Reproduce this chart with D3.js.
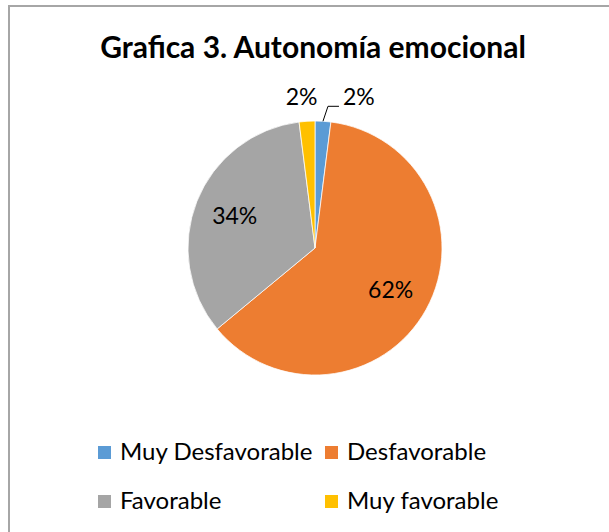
<!DOCTYPE html>
<html>
<head>
<meta charset="utf-8">
<script src="https://cdn.jsdelivr.net/npm/d3@7"></script>
<style>
  body { margin: 0; background: #fff; }
  text { font-family: Lato, "Noto Sans", sans-serif; fill: #000; }
</style>
</head>
<body>
<div id="chart"></div>
<script>
// chart data
var categories = ["Muy Desfavorable", "Desfavorable", "Favorable", "Muy favorable"];
var values = [2, 62, 34, 2];
var labels = ["2%", "62%", "34%", "2%"];
var colors = ["#5B9BD5", "#ED7D31", "#A5A5A5", "#FFC000"];
var title = "Grafica 3. Autonomía emocional";

var width = 609, height = 532;
var cx = 315, cy = 248, radius = 127;

var svg = d3.select("#chart").append("svg")
    .attr("width", width).attr("height", height);

// outer frame (only left and top visible in the picture)
svg.append("rect").attr("x", 9).attr("y", 6)
    .attr("width", 800).attr("height", 800)
    .style("fill", "none").style("stroke", "#a6a6a6").style("stroke-width", 2);

// title
svg.append("text").attr("x", 313).attr("y", 58)
    .attr("text-anchor", "middle")
    .style("font-size", "30px").style("font-weight", "bold")
    .text(title);

var data = categories.map(function(c, i) {
    return {name: c, value: values[i], label: labels[i], color: colors[i]};
});

var pie = d3.pie().sort(null).value(function(d) { return d.value; });
var arcs = pie(data);

var arc = d3.arc().innerRadius(0).outerRadius(radius);
var labelArc = d3.arc().innerRadius(radius * 0.68).outerRadius(radius * 0.68);

var g = svg.append("g").attr("transform", "translate(" + cx + "," + cy + ")");

g.selectAll("path.slice").data(arcs).enter()
    .append("path").attr("class", "slice")
    .attr("d", arc)
    .style("fill", function(d) { return d.data.color; })
    .style("stroke", "#fff").style("stroke-width", 0.75);

//---- labels: big slices inside, small ones outside
arcs.forEach(function(d, i) {
    var mid = (d.startAngle + d.endAngle) / 2;
    if (d.data.value >= 10) {
        var c = labelArc.centroid(d);
        g.append("text").attr("x", c[0]).attr("y", c[1]).attr("dy", "0.35em")
            .attr("text-anchor", "middle").style("font-size", "23px")
            .text(d.data.label);
    } else {
        var px = Math.sin(mid) * (radius + 24),
            py = -Math.cos(mid) * (radius + 24);
        if (i === 0) {
            // label pushed right with leader line
            var ex = Math.sin(mid) * radius, ey = -Math.cos(mid) * radius;
            g.append("polyline")
                .attr("points", [[ex, ey], [ex + 5, py + 9], [ex + 16, py + 9]].map(function(p) { return p.join(","); }).join(" "))
                .style("fill", "none").style("stroke", "#000").style("stroke-width", 1);
            g.append("text").attr("x", ex + 20).attr("y", py).attr("dy", "0.35em")
                .attr("text-anchor", "start").style("font-size", "23px")
                .text(d.data.label);
        } else {
            g.append("text").attr("x", px - 4).attr("y", py).attr("dy", "0.35em")
                .attr("text-anchor", "middle").style("font-size", "23px")
                .text(d.data.label);
        }
    }
});

//---- legend, 2 columns
var legend = svg.append("g").attr("class", "legend");
var colX = [98, 325], rowY = [452, 501];

var item = legend.selectAll("g").data(data).enter().append("g")
    .attr("transform", function(d, i) {
        return "translate(" + colX[i % 2] + "," + rowY[Math.floor(i / 2)] + ")";
    });
item.append("rect").attr("x", 0).attr("y", -6).attr("width", 13).attr("height", 13)
    .style("fill", function(d) { return d.color; });
item.append("text").attr("x", 22).attr("y", 0).attr("dy", "0.35em")
    .style("font-size", "24px")
    .text(function(d) { return d.name; });
</script>
</body>
</html>
